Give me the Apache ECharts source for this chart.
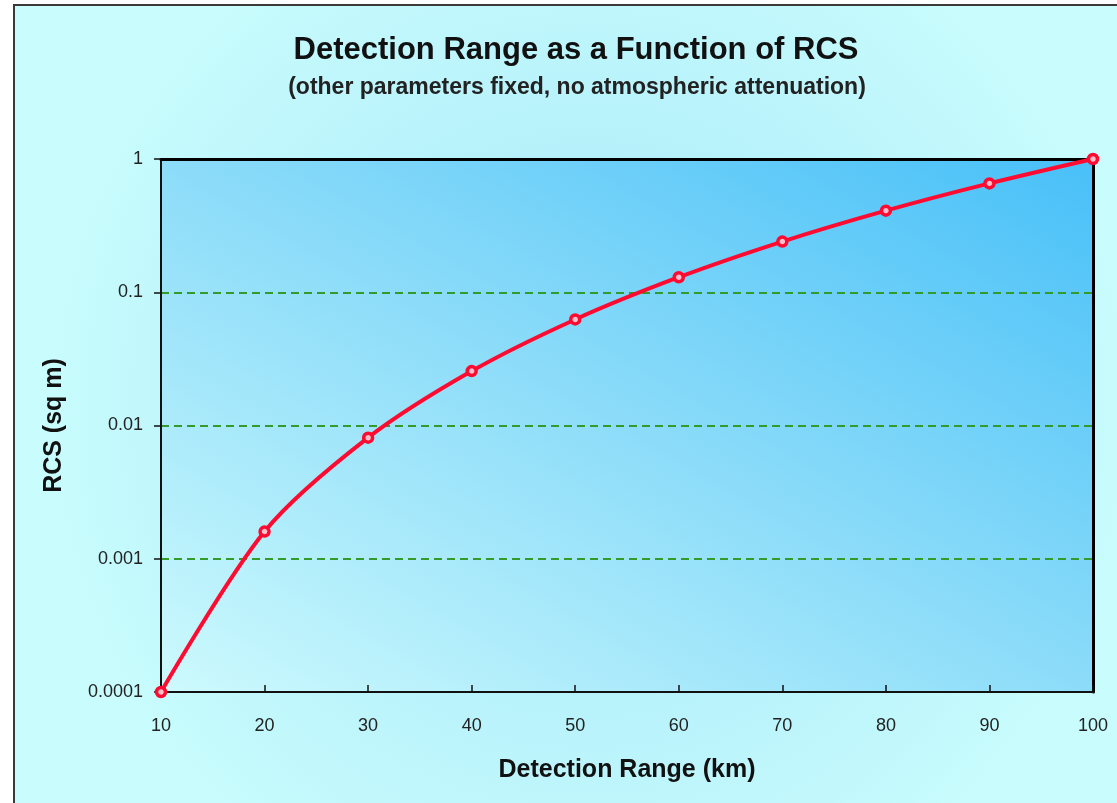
<!DOCTYPE html>
<html>
<head>
<meta charset="utf-8">
<script src="https://cdn.jsdelivr.net/npm/echarts@6/dist/echarts.min.js"></script>
<style>
html,body{margin:0;padding:0;background:#fff;}
#c{width:1117px;height:803px;}
</style>
</head>
<body>
<div id="c"></div>
<script>
var ranges = [10, 20, 30, 40, 50, 60, 70, 80, 90, 100];
var rcsValues = [0.0001, 0.0016, 0.0081, 0.0256, 0.0625, 0.1296, 0.2401, 0.4096, 0.6561, 1];
var yTickLabels = {'0.0001':'0.0001','0.001':'0.001','0.01':'0.01','0.1':'0.1','1':'1'};
var titleText = 'Detection Range as a Function of RCS';
var subtitleText = '(other parameters fixed, no atmospheric attenuation)';

var chart = echarts.init(document.getElementById('c'));
var font = 'Liberation Sans';
var data = ranges.map(function(r, i){ return [r, rcsValues[i]]; });

chart.setOption({
  animation: false,
  graphic: [{
    type: 'rect', z: -10, silent: true,
    shape: {x: 14, y: 5, width: 1200, height: 900},
    style: {
      fill: new echarts.graphic.RadialGradient(0.48, 0.45, 0.6, [
        {offset: 0, color: '#a8e8f8'},
        {offset: 0.55, color: '#b8f2fb'},
        {offset: 1, color: '#c8fcfd'}
      ]),
      stroke: '#3a3a3a', lineWidth: 2
    }
  }],
  title: [{
    text: titleText,
    left: 571, top: 30, textAlign: 'center',
    textStyle: {fontFamily: font, fontSize: 31, fontWeight: 'bold', color: '#111'}
  }, {
    text: subtitleText,
    left: 572, top: 71, textAlign: 'center',
    textStyle: {fontFamily: font, fontSize: 23, fontWeight: 'bold', color: '#222'}
  }],
  grid: {
    left: 161, right: 24, top: 159, bottom: 111,
    show: true, borderWidth: 0,
    backgroundColor: new echarts.graphic.LinearGradient(0.2535, 1.2536, 0.7465, -0.2536, [
      {offset: 0, color: '#cdfafd'},
      {offset: 0.5, color: '#8cdcf9'},
      {offset: 1, color: '#48c0f8'}
    ])
  },
  xAxis: [{
    type: 'value', min: 10, max: 100, interval: 10,
    name: 'Detection Range (km)', nameLocation: 'middle', nameGap: 66,
    nameTextStyle: {fontFamily: font, fontSize: 25, fontWeight: 'bold', color: '#111'},
    axisLine: {show: true, onZero: false, lineStyle: {color: '#111', width: 2}},
    axisTick: {show: true, inside: true, length: 7, lineStyle: {color: '#111', width: 1.5}},
    axisLabel: {fontFamily: font, fontSize: 18, color: '#222', margin: 25},
    splitLine: {show: false}
  }, {
    type: 'value', min: 10, max: 100, position: 'top',
    axisLine: {show: true, onZero: false, lineStyle: {color: '#000', width: 3}},
    axisTick: {show: false}, axisLabel: {show: false}, splitLine: {show: false}
  }],
  yAxis: [{
    type: 'log', logBase: 10, min: 0.0001, max: 1,
    name: 'RCS (sq m)', nameLocation: 'middle', nameGap: 94, nameRotate: 90,
    nameTextStyle: {fontFamily: font, fontSize: 25, fontWeight: 'bold', color: '#111'},
    axisLine: {show: true, onZero: false, lineStyle: {color: '#111', width: 2}},
    axisTick: {show: true, inside: false, length: 7, lineStyle: {color: '#111', width: 1.5}},
    axisLabel: {
      fontFamily: font, fontSize: 18, color: '#222', margin: 18,
      formatter: function(v){
        var k = String(+v.toPrecision(6));
        return yTickLabels[k] !== undefined ? yTickLabels[k] : k;
      }
    },
    splitLine: {show: true, lineStyle: {color: '#339a2c', width: 2, type: [8, 5]}},
    minorTick: {show: false}
  }, {
    type: 'log', logBase: 10, min: 0.0001, max: 1, position: 'right',
    axisLine: {show: true, onZero: false, lineStyle: {color: '#000', width: 3}},
    axisTick: {show: false}, axisLabel: {show: false}, splitLine: {show: false}
  }],
  series: [{
    type: 'line',
    data: data,
    smooth: 0.3,
    clip: false,
    symbol: 'circle',
    symbolSize: 9,
    lineStyle: {color: '#ff0a30', width: 4},
    itemStyle: {color: '#ffc0cc', borderColor: '#ff0a30', borderWidth: 3.5},
    z: 5
  }]
});
</script>
</body>
</html>
